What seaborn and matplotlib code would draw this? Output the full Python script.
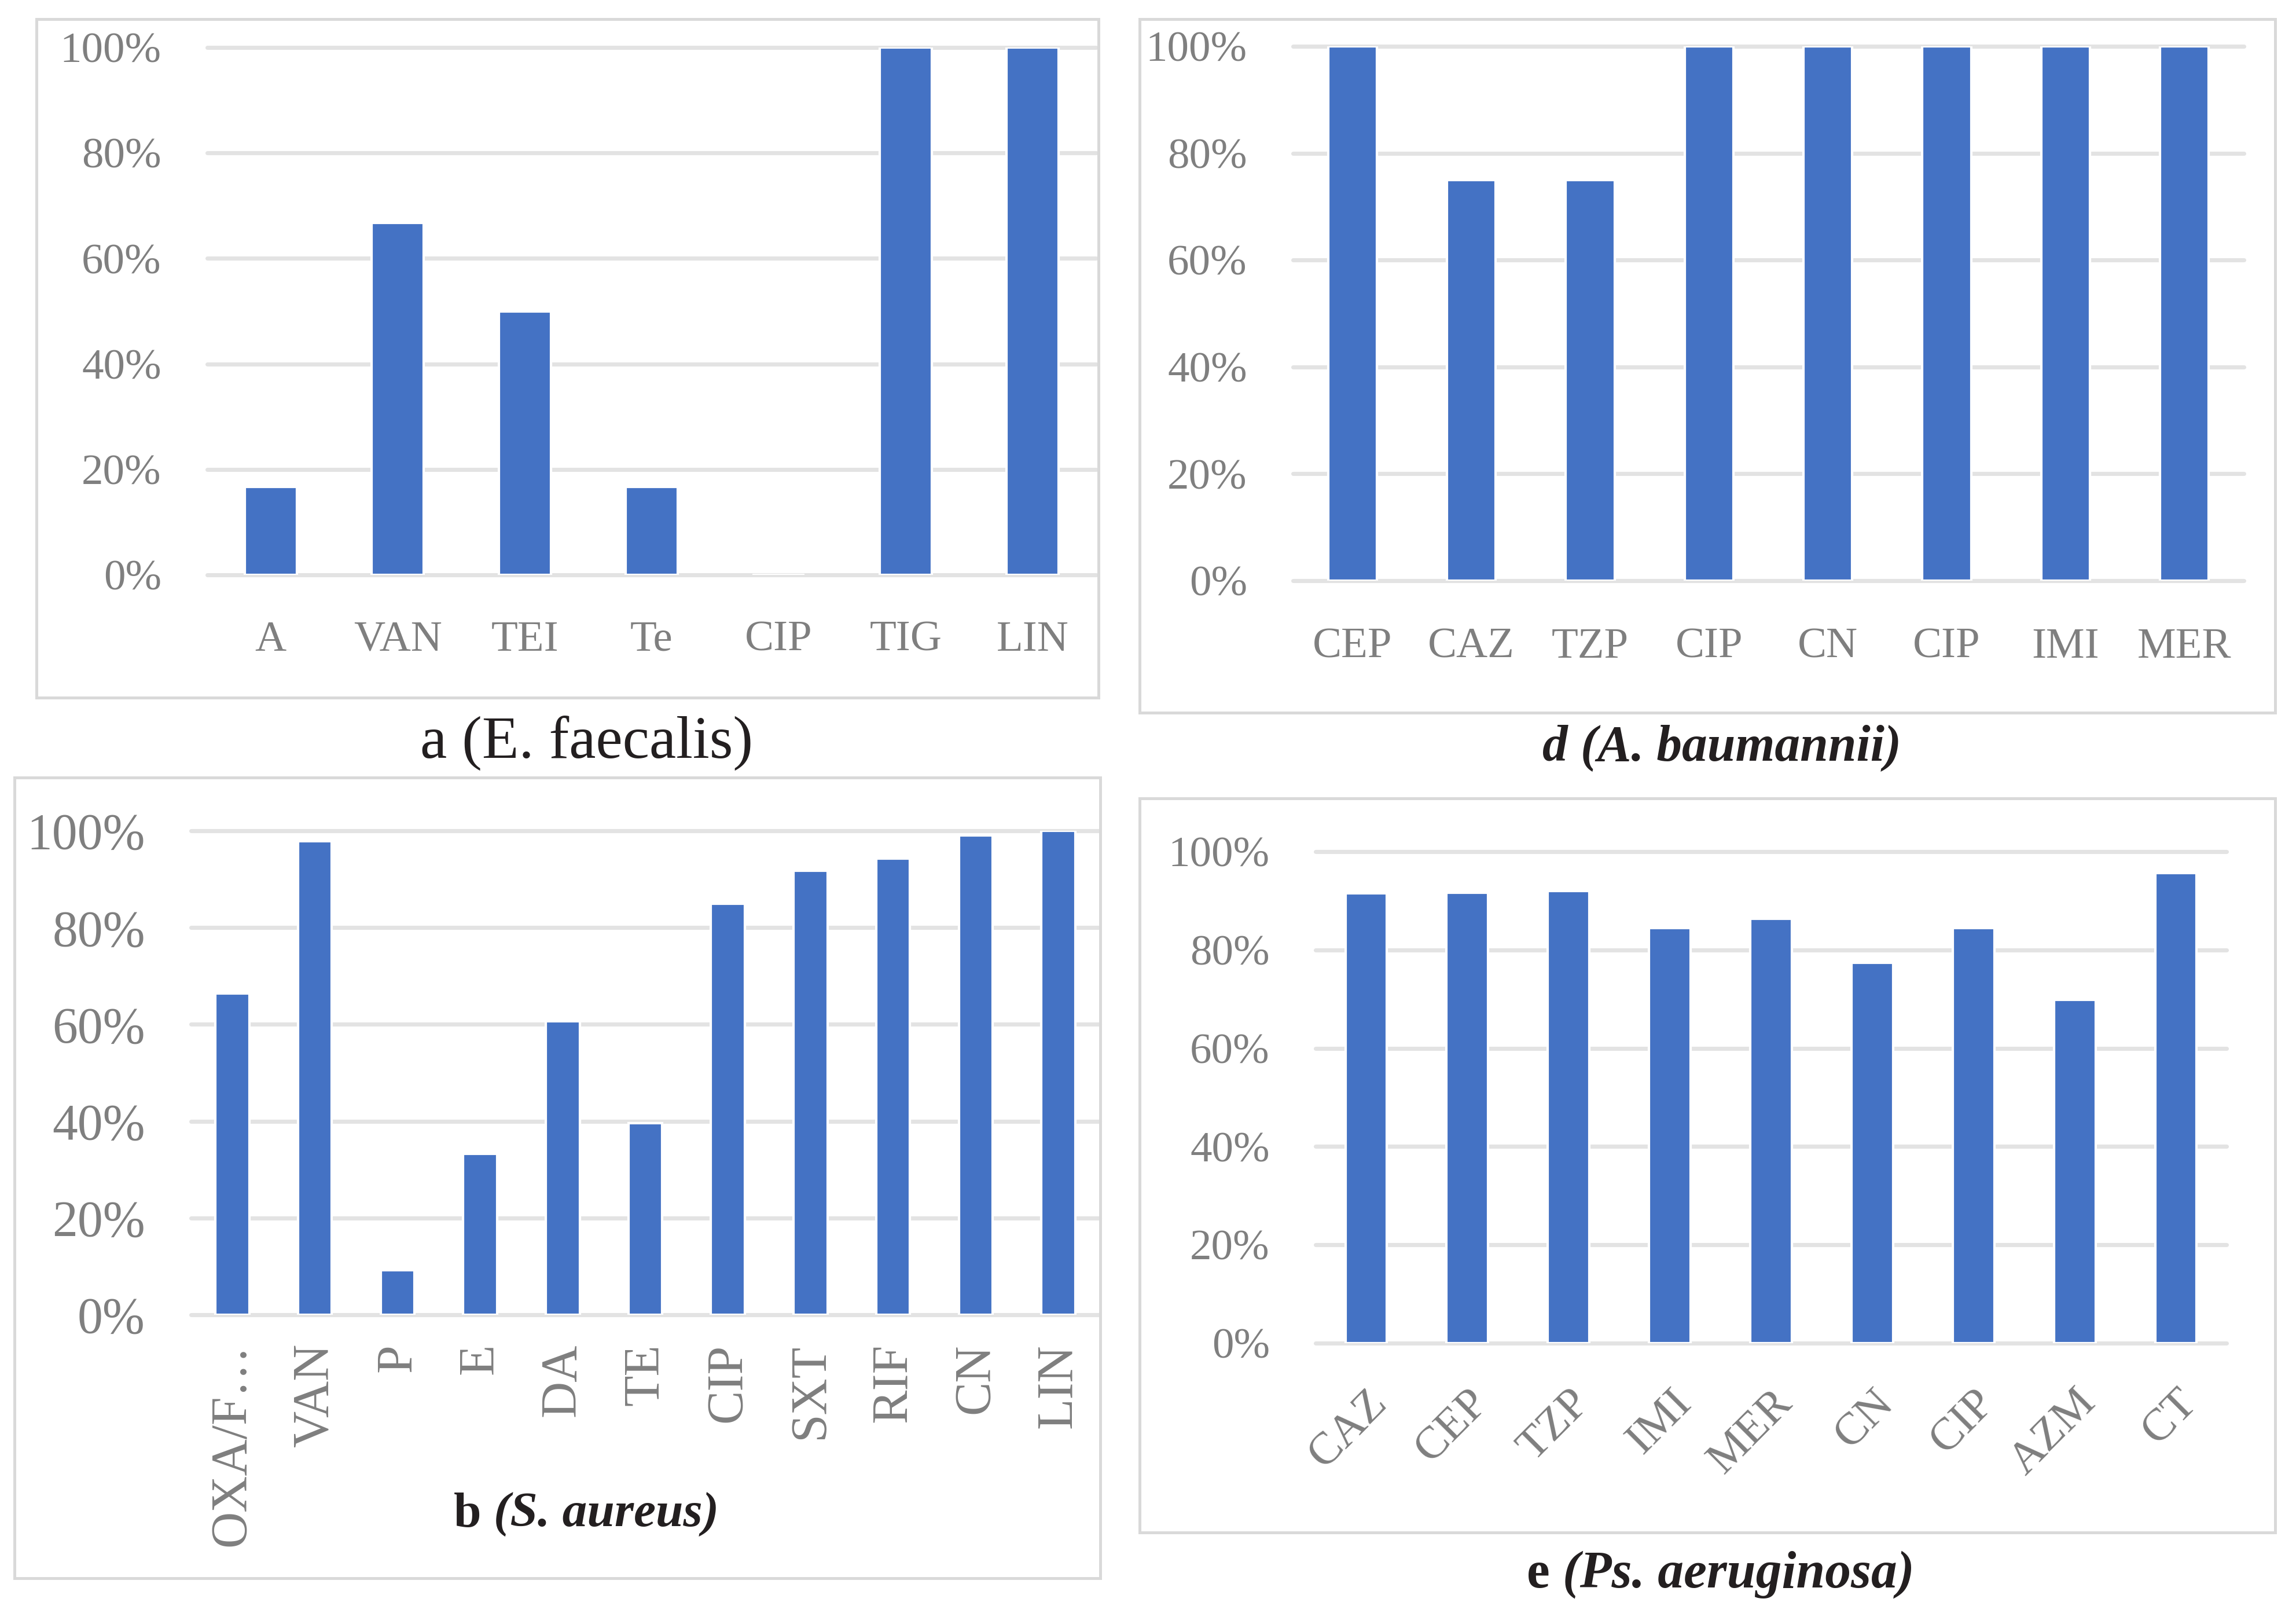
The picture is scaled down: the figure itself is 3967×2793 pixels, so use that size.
import numpy as np
import pandas as pd
import matplotlib.pyplot as plt
import seaborn as sns
from matplotlib.patches import Rectangle
from matplotlib.ticker import PercentFormatter

# data (share of resistant isolates)
a_labels = ["A", "VAN", "TEI", "Te", "CIP", "TIG", "LIN"]
a_values = [0.167, 0.667, 0.50, 0.167, 0.0, 1.0, 1.0]

d_labels = ["CEP", "CAZ", "TZP", "CIP", "CN", "CIP", "IMI", "MER"]
d_values = [1.0, 0.75, 0.75, 1.0, 1.0, 1.0, 1.0, 1.0]

b_labels = ["OXA/F…", "VAN", "P", "E", "DA", "TE", "CIP", "SXT", "RIF", "CN", "LIN"]
b_values = [0.664, 0.979, 0.092, 0.333, 0.606, 0.396, 0.849, 0.917, 0.943, 0.991, 1.0]

e_labels = ["CAZ", "CEP", "TZP", "IMI", "MER", "CN", "CIP", "AZM", "CT"]
e_values = [0.915, 0.916, 0.920, 0.844, 0.863, 0.774, 0.845, 0.699, 0.956]

W, H, DPI = 3967, 2793, 300
BAR = "#4472C4"
GRID = "#e3e3e3"
FRAME = "#d9d9d9"
TICK = "#7f7f7f"
INK = "#231f20"

sns.set_style("white")
plt.rcParams["font.family"] = ["Liberation Serif", "DejaVu Serif"]

fig = plt.figure(figsize=(W / DPI, H / DPI), dpi=DPI)


def fx(x):
    return x / W


def fy(y):
    return 1 - y / H


def frame(x0, y0, x1, y1):
    fig.patches.append(Rectangle((fx(x0), fy(y1)), fx(x1 - x0), (y1 - y0) / H,
                                 transform=fig.transFigure, fill=False,
                                 edgecolor=FRAME, lw=1.2))


def panel(labels, values, box, fs, xfs=None, rot=0, xpad=17):
    left, top, right, bottom = box
    ax = fig.add_axes([fx(left), fy(bottom), fx(right - left), (bottom - top) / H])
    df = pd.DataFrame({"pos": np.arange(len(labels)), "val": values})
    sns.barplot(data=df, x="pos", y="val", ax=ax, color=BAR, saturation=1,
                width=0.41, zorder=3)
    ax.set_xlim(-0.5, len(labels) - 0.5)
    ax.set_ylim(0, 1)
    ax.set_yticks(np.linspace(0, 1, 6))
    ax.yaxis.set_major_formatter(PercentFormatter(1.0, decimals=0))
    ax.set_xticks(np.arange(len(labels)))
    ax.yaxis.grid(True, color=GRID, lw=1.7, zorder=0)
    for gl in ax.get_ygridlines():
        gl.set_clip_on(False)
    ax.set_axisbelow(True)
    for s in ax.spines.values():
        s.set_visible(False)
    ax.set_xlabel("")
    ax.set_ylabel("")
    ax.tick_params(axis="both", length=0, colors=TICK)
    ax.tick_params(axis="y", pad=19, labelsize=fs)
    ax.tick_params(axis="x", pad=xpad, labelsize=xfs or fs)
    if rot == 90:
        ax.set_xticklabels(labels, rotation=90, va="top", ha="center")
    elif rot == 45:
        ax.set_xticklabels(labels, rotation=45, ha="right", va="top",
                           rotation_mode="anchor")
    else:
        ax.set_xticklabels(labels)
    return ax


def mixed_title(cx, cy, head, tail, size, italic_head=False):
    # upright (or italic) bold letter followed by a bold italic species name
    r = fig.canvas.get_renderer()
    t1 = fig.text(0, fy(cy), head, fontsize=size, fontweight="bold",
                  fontstyle="italic" if italic_head else "normal",
                  color=INK, ha="left", va="center")
    t2 = fig.text(0, fy(cy), tail, fontsize=size, fontweight="bold",
                  fontstyle="italic", color=INK, ha="left", va="center")
    w1 = t1.get_window_extent(r).width / fig.bbox.width
    w2 = t2.get_window_extent(r).width / fig.bbox.width
    gap = size * 0.25 / 72 * DPI / fig.bbox.width
    x0 = fx(cx) - (w1 + gap + w2) / 2
    t1.set_x(x0)
    t2.set_x(x0 + w1 + gap)


# panel a
frame(63, 33, 1898, 1205)
panel(a_labels, a_values, (358, 82, 1894, 993), 18, xpad=19)
fig.text(fx(1014), fy(1283), "a (E. faecalis)", fontsize=25, color=INK,
         ha="center", va="center")

# panel d
frame(1969, 33, 3931, 1231)
panel(d_labels, d_values, (2234, 80, 3877, 1003), 18, xpad=19.5)
mixed_title(2975, 1292, "d", "(A. baumannii)", 21, italic_head=True)

# panel b
frame(25, 1343, 1901, 2726)
panel(b_labels, b_values, (330, 1435, 1900, 2271), 21, rot=90, xpad=12)
mixed_title(1013, 2616, "b", "(S. aureus)", 20.5)

# panel e
frame(1969, 1379, 3931, 2647)
panel(e_labels, e_values, (2273, 1471, 3847, 2320), 18, xfs=19, rot=45, xpad=16)
mixed_title(2973, 2720, "e", "(Ps. aeruginosa)", 21.5)

fig.savefig("out.png", dpi=DPI)
